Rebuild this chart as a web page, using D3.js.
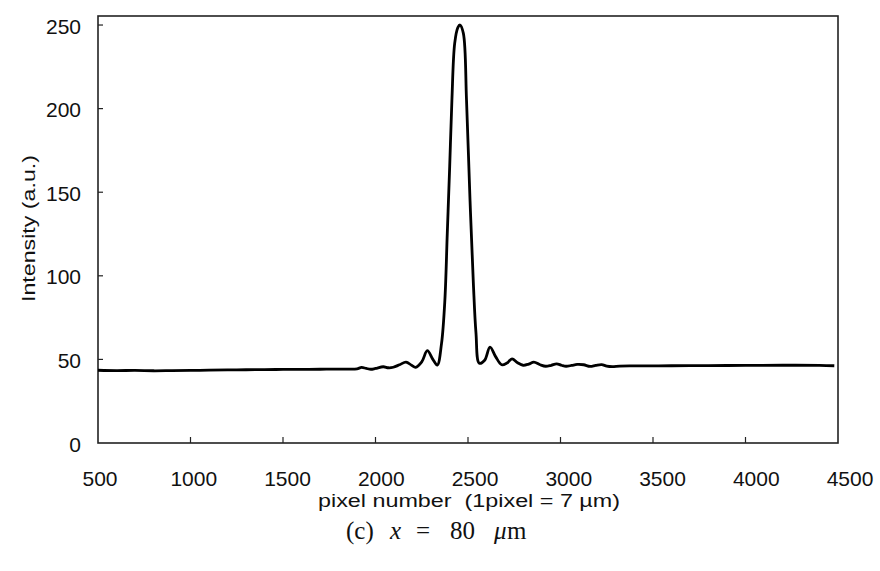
<!DOCTYPE html>
<html>
<head>
<meta charset="utf-8">
<script src="https://cdn.jsdelivr.net/npm/d3@7/dist/d3.min.js"></script>
<style>
  html, body { margin: 0; padding: 0; background: #fff; }
  svg { display: block; }
</style>
</head>
<body>
<svg id="chart" width="880" height="571"></svg>
<script>
// Intensity profile across the detector (pixel number vs. intensity)
const pixel = [
  500, 600, 700, 800, 900, 1000, 1100, 1200, 1300, 1400, 1500, 1600, 1700, 1800,
  1860, 1900, 1925, 1950, 1975, 2000, 2042, 2070, 2096, 2130, 2165, 2195, 2217,
  2250, 2280, 2310, 2334, 2357, 2375, 2388, 2401, 2413, 2428, 2445, 2457, 2475,
  2492, 2511, 2529, 2543, 2561, 2590, 2619, 2650, 2682, 2710, 2738, 2768, 2798,
  2828, 2856, 2890, 2920, 2950, 2979, 3005, 3030, 3060, 3090, 3125, 3160, 3190,
  3222, 3250, 3280, 3320, 3400, 3600, 3800, 4000, 4200, 4400, 4480
];
const intensity = [
  43.5, 43.3, 43.4, 43.2, 43.3, 43.4, 43.6, 43.7, 43.8, 43.9, 44.0, 44.0, 44.1, 44.2,
  44.2, 44.4, 45.2, 44.6, 44.1, 44.6, 45.6, 45.0, 45.3, 46.8, 48.4, 46.5, 45.3,
  48.5, 55.2, 50.0, 46.6, 59.6, 85.5, 125.4, 165.3, 205.0, 239.0, 248.5, 250.0, 245.0,
  205.0, 145.0, 95.5, 66.0, 47.7, 49.5, 57.4, 51.5, 46.8, 47.8, 50.3, 48.0, 46.5,
  47.2, 48.4, 46.8, 45.9, 46.5, 47.3, 46.5, 45.9, 46.4, 47.0, 46.8, 45.8, 46.4,
  46.9, 46.0, 45.7, 46.0, 46.1, 46.2, 46.3, 46.4, 46.5, 46.4, 46.2
];

const xTicks = [500, 1000, 1500, 2000, 2500, 3000, 3500, 4000, 4500];
const yTicks = [0, 50, 100, 150, 200, 250];

const xTitle = "pixel number  (1pixel = 7 \u00b5m)";
const yTitle = "Intensity (a.u.)";

const svg = d3.select("#chart");

const plotL = 98, plotR = 838, plotT = 16, plotB = 443;

const x = d3.scaleLinear().domain([500, 4500]).range([plotL, plotR]);
const y = d3.scaleLinear().domain([0, 255.4]).range([plotB, plotT]);
// tick labels run slightly wider than the tick marks
const xLab = d3.scaleLinear().domain([500, 4500]).range([100, 850]);

const frame = "#222";

// plot frame
svg.append("rect")
  .attr("x", plotL).attr("y", plotT)
  .attr("width", plotR - plotL).attr("height", plotB - plotT)
  .attr("fill", "none").attr("stroke", frame).attr("stroke-width", 1.6);

// x ticks (inward)
svg.append("g").selectAll("line")
  .data(xTicks.filter(d => d > 500 && d < 4500))
  .join("line")
  .attr("x1", d => x(d)).attr("x2", d => x(d))
  .attr("y1", plotB).attr("y2", plotB - 6)
  .attr("stroke", frame).attr("stroke-width", 1.2);

// y ticks (inward)
svg.append("g").selectAll("line")
  .data(yTicks.filter(d => d > 0))
  .join("line")
  .attr("x1", plotL).attr("x2", plotL + 5)
  .attr("y1", d => y(d)).attr("y2", d => y(d))
  .attr("stroke", frame).attr("stroke-width", 1.2);

const font = "'Liberation Sans', Arial, sans-serif";

// x tick labels
svg.append("g").selectAll("text")
  .data(xTicks)
  .join("text")
  .attr("x", d => xLab(d)).attr("y", 486)
  .attr("text-anchor", "middle")
  .attr("font-family", font).attr("font-size", 21)
  .attr("fill", "#111")
  .text(d => d);

// y tick labels
svg.append("g").selectAll("text")
  .data(yTicks)
  .join("text")
  .attr("x", 81).attr("y", d => y(d) + 1)
  .attr("dy", "0.36em")
  .attr("text-anchor", "end")
  .attr("font-family", font).attr("font-size", 21)
  .attr("fill", "#111")
  .text(d => d);

// axis titles (set in a widened face)
svg.append("text")
  .attr("x", 318).attr("y", 507)
  .attr("font-family", font).attr("font-size", 18)
  .attr("fill", "#111")
  .attr("xml:space", "preserve")
  .style("white-space", "pre")
  .attr("textLength", 302)
  .attr("lengthAdjust", "spacingAndGlyphs")
  .text(xTitle);

svg.append("text")
  .attr("transform", "translate(35,302) rotate(-90)")
  .attr("font-family", font).attr("font-size", 18)
  .attr("fill", "#111")
  .attr("textLength", 147)
  .attr("lengthAdjust", "spacingAndGlyphs")
  .text(yTitle);

// intensity curve
const pts = pixel.map((p, i) => [p, intensity[i]]);
const line = d3.line()
  .x(d => x(d[0]))
  .y(d => y(d[1]))
  .curve(d3.curveCatmullRom.alpha(0.5));

svg.append("path")
  .datum(pts)
  .attr("d", line)
  .attr("fill", "none")
  .attr("stroke", "#000")
  .attr("stroke-width", 2.8)
  .attr("stroke-linejoin", "round");

// caption
const cap = svg.append("text")
  .attr("y", 539)
  .attr("font-family", "'Liberation Serif', 'DejaVu Serif', serif")
  .attr("font-size", 25)
  .attr("fill", "#111");
cap.append("tspan").attr("x", 346).text("(c)");
cap.append("tspan").attr("x", 390).attr("font-style", "italic").text("x");
cap.append("tspan").attr("x", 416).text("=");
cap.append("tspan").attr("x", 450).text("80");
cap.append("tspan").attr("x", 494).attr("font-style", "italic").text("\u03bc");
cap.append("tspan").attr("x", 507).text("m");
</script>
</body>
</html>
